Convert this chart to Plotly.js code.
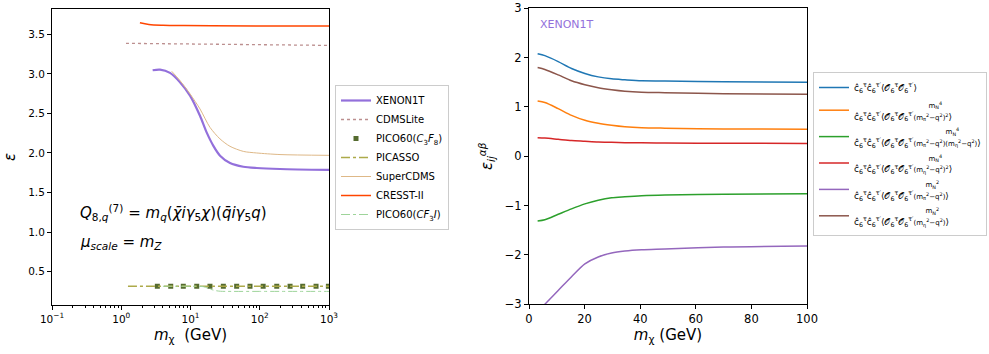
<!DOCTYPE html>
<html><head><meta charset="utf-8">
<script src="https://cdn.plot.ly/plotly-3.0.1.min.js"></script>
<style>html,body{margin:0;padding:0;background:#fff}#c{width:989px;height:354px}</style>
</head><body><div id="c"></div>
<script>
// ---- Left panel data (m_chi in GeV, epsilon) ----
const xenonX = [2.84, 3.63, 5.06, 7.05, 9.84, 13.7, 17.1, 21.4, 26.7, 37.2, 57.9, 90.3, 196, 1000];
const xenonY = [3.046, 3.054, 3.012, 2.894, 2.725, 2.47, 2.26, 2.09, 1.966, 1.873, 1.826, 1.81, 1.797, 1.785];
const cdmsliteX = [1.17, 10, 100, 1000];
const cdmsliteY = [3.386, 3.375, 3.365, 3.36];
const picoC3F8X = [3.32, 5.18, 7.87, 12.3, 19.1, 29.8, 46.4, 72.3, 112, 176, 274, 417, 650, 980];
const picoC3F8Y = [0.315, 0.315, 0.315, 0.315, 0.315, 0.315, 0.315, 0.315, 0.315, 0.315, 0.315, 0.315, 0.315, 0.315];
const picassoX = [1.25, 10, 100, 1000];
const picassoY = [0.315, 0.315, 0.315, 0.315];
const superX = [5.35, 7.05, 9.84, 13.7, 19.1, 26.7, 37.2, 57.9, 90.3, 196, 1000];
const superY = [3.033, 2.915, 2.747, 2.557, 2.324, 2.177, 2.084, 2.02, 2.0, 1.98, 1.97];
const cresstX = [1.86, 2.5, 4, 8, 20, 100, 1000];
const cresstY = [3.645, 3.625, 3.615, 3.61, 3.607, 3.605, 3.605];
const picoCF3IX = [4, 10, 15.3, 19, 23, 27, 40, 100, 1000];
const picoCF3IY = [0.315, 0.315, 0.31, 0.28, 0.26, 0.252, 0.25, 0.25, 0.25];

// ---- Right panel data (XENON1T, epsilon_ij^{alpha beta}) ----
const mx = [3.1, 5.7, 10.5, 15.3, 20.1, 24.9, 29.7, 34.5, 40.5, 48.9, 70, 100];
const epsBlue   = [2.08, 2.04, 1.92, 1.78, 1.68, 1.61, 1.57, 1.55, 1.53, 1.527, 1.51, 1.50];
const epsOrange = [1.12, 1.09, 0.966, 0.83, 0.73, 0.67, 0.63, 0.60, 0.58, 0.57, 0.555, 0.55];
const epsGreen  = [-1.31, -1.285, -1.175, -1.065, -0.965, -0.89, -0.84, -0.82, -0.80, -0.785, -0.77, -0.76];
const epsRed    = [0.378, 0.37, 0.345, 0.32, 0.305, 0.29, 0.283, 0.277, 0.273, 0.27, 0.265, 0.26];
const epsPurple = [-3.15, -3.0, -2.72, -2.44, -2.18, -2.04, -1.96, -1.92, -1.895, -1.88, -1.84, -1.82];
const epsBrown  = [1.80, 1.76, 1.65, 1.53, 1.45, 1.39, 1.35, 1.32, 1.30, 1.29, 1.27, 1.26];

const leftNames = ['XENON1T','CDMSLite','PICO60(<i>C</i><sub>3</sub><i>F</i><sub>8</sub>)','PICASSO','SuperCDMS','CRESST-II','PICO60(<i>CF</i><sub>3</sub><i>I</i>)'];
const NB = n => '\u00A0'.repeat(n);
const sm = s => '<span style="font-size:7px">' + s + '</span>';
const cc = 'ĉ<sub>6</sub><sup>τ</sup>ĉ<sub>6</sub><sup>τ′</sup>⟨𝒪<sub>6</sub><sup>τ</sup>𝒪<sub>6</sub><sup>τ′</sup>';
const mN4 = 'm<sub>N</sub><sup>4</sup>', mN2 = 'm<sub>N</sub><sup>2</sup>';
const dPi = '(m<sub>π</sub><sup>2</sup>−q<sup>2</sup>)', dEta = '(m<sub>η</sub><sup>2</sup>−q<sup>2</sup>)';
const rightNames = [
  cc + '⟩',
  NB(26) + sm(mN4) + '<br>' + cc + sm(dPi + '<sup>2</sup>') + '⟩',
  NB(32) + sm(mN4) + '<br>' + cc + sm(dPi + dEta) + '⟩',
  NB(26) + sm(mN4) + '<br>' + cc + sm(dEta + '<sup>2</sup>') + '⟩',
  NB(25) + sm(mN2) + '<br>' + cc + sm(dPi) + '⟩',
  NB(25) + sm(mN2) + '<br>' + cc + sm(dEta) + '⟩'
];

const L = (x, y, name, line, extra) => Object.assign({x, y, name, type:'scatter', mode:'lines', line, xaxis:'x', yaxis:'y', legend:'legend'}, extra||{});
const R = (y, name, color) => ({x: mx, y, name, type:'scatter', mode:'lines', line:{color, width:1.5, shape:'spline', smoothing:0.8}, xaxis:'x2', yaxis:'y2', legend:'legend2'});

const traces = [
  L(xenonX, xenonY, leftNames[0], {color:'#9370DB', width:2.2, shape:'spline', smoothing:0.8}),
  L(cdmsliteX, cdmsliteY, leftNames[1], {color:'#BC8F8F', width:1.3, dash:'dot'}),
  L(picoC3F8X, picoC3F8Y, leftNames[2], {color:'#556B2F'}, {mode:'markers', marker:{symbol:'square', size:5, color:'#556B2F'}}),
  L(picassoX, picassoY, leftNames[3], {color:'#ADAA4A', width:1.5, dash:'dashdot'}),
  L(superX, superY, leftNames[4], {color:'#DEB887', width:1, shape:'spline', smoothing:0.8}),
  L(cresstX, cresstY, leftNames[5], {color:'#FF4500', width:1.5, shape:'spline'}),
  L(picoCF3IX, picoCF3IY, leftNames[6], {color:'#9ED49A', width:1, dash:'dashdot', shape:'spline'}),
  R(epsBlue, rightNames[0], '#1f77b4'),
  R(epsOrange, rightNames[1], '#ff7f0e'),
  R(epsGreen, rightNames[2], '#2ca02c'),
  R(epsRed, rightNames[3], '#d62728'),
  R(epsPurple, rightNames[4], '#9467bd'),
  R(epsBrown, rightNames[5], '#8c564b')
];

const axBase = {automargin:false, showline:true, linecolor:'#000', linewidth:1, mirror:true, ticks:'outside', ticklen:4, tickcolor:'#000', showgrid:false, zeroline:false, tickfont:{size:10.5, color:'#000'}};
const H = 354, W = 989;
const layout = {
  width: W, height: H,
  margin:{l:0, r:0, t:0, b:0, autoexpand:false},
  paper_bgcolor:'#fff', plot_bgcolor:'#fff',
  font:{family:'DejaVu Sans', color:'#000'},
  xaxis: Object.assign({}, axBase, {
    type:'log', range:[-1, 3], domain:[52/W, 329/W], anchor:'y',
    tickmode:'array', tickvals:[0.1, 1, 10, 100, 1000],
    ticktext:['10<sup>−1</sup>','10<sup>0</sup>','10<sup>1</sup>','10<sup>2</sup>','10<sup>3</sup>'],
    minor:{ticks:'outside', ticklen:2, tickcolor:'#000', tickmode:'array',
      tickvals:[0.2,0.3,0.4,0.5,0.6,0.7,0.8,0.9,2,3,4,5,6,7,8,9,20,30,40,50,60,70,80,90,200,300,400,500,600,700,800,900]},
    title:{text:'<i>m</i><sub>χ</sub>  (GeV)', font:{size:15}, standoff:5}
  }),
  yaxis: Object.assign({}, axBase, {
    range:[0.078, 3.82], domain:[(H-305)/H, (H-9)/H], anchor:'x',
    tickmode:'linear', tick0:0.5, dtick:0.5, tickformat:'.1f',
    title:{text:'<i>ε</i>', font:{size:15}, standoff:8}
  }),
  xaxis2: Object.assign({}, axBase, {
    range:[0, 100], domain:[529/W, 807/W], anchor:'y2',
    tickmode:'linear', tick0:0, dtick:20, tickfont:{size:11.5, color:'#000'},
    title:{text:'<i>m</i><sub>χ</sub> (GeV)', font:{size:15}, standoff:3}
  }),
  yaxis2: Object.assign({}, axBase, {
    range:[-3, 3], domain:[(H-304.3)/H, (H-8.3)/H], anchor:'x2',
    tickmode:'linear', tick0:0, dtick:1, tickfont:{size:11.5, color:'#000'},
    title:{text:'<i>ε</i><sub><i>ij</i></sub><sup><i>αβ</i></sup>', font:{size:15}, standoff:8}
  }),
  legend:{x:335/W, y:1-85/H, xanchor:'left', yanchor:'top', bgcolor:'rgba(255,255,255,0.9)', bordercolor:'#ccc', borderwidth:1, font:{size:10, color:'#000'}, tracegroupgap:0, itemwidth:30},
  legend2:{x:813/W, y:1-72/H, xanchor:'left', yanchor:'top', bgcolor:'rgba(255,255,255,0.9)', bordercolor:'#ccc', borderwidth:1, font:{size:9, color:'#000'}, tracegroupgap:0, itemwidth:30},
  showlegend:true,
  annotations:[
    {xref:'paper', yref:'paper', x:538/W, y:1-25/H, xanchor:'left', yanchor:'middle', showarrow:false, text:'XENON1T', font:{size:11, color:'#9370DB'}},
    {xref:'paper', yref:'paper', x:78/W, y:1-213/H, xanchor:'left', yanchor:'middle', showarrow:false, text:'<i>Q</i><sub>8,<i>q</i></sub><sup>(7)</sup> = <i>m</i><sub><i>q</i></sub>(<i>χ̄iγ</i><sub>5</sub><i>χ</i>)(<i>q̄iγ</i><sub>5</sub><i>q</i>)', font:{size:15, color:'#000'}},
    {xref:'paper', yref:'paper', x:78/W, y:1-242/H, xanchor:'left', yanchor:'middle', showarrow:false, text:'<i>μ</i><sub><i>scale</i></sub> = <i>m</i><sub><i>Z</i></sub>', font:{size:15, color:'#000'}}
  ]
};
Plotly.newPlot('c', traces, layout, {staticPlot:true, displayModeBar:false});
</script></body></html>
